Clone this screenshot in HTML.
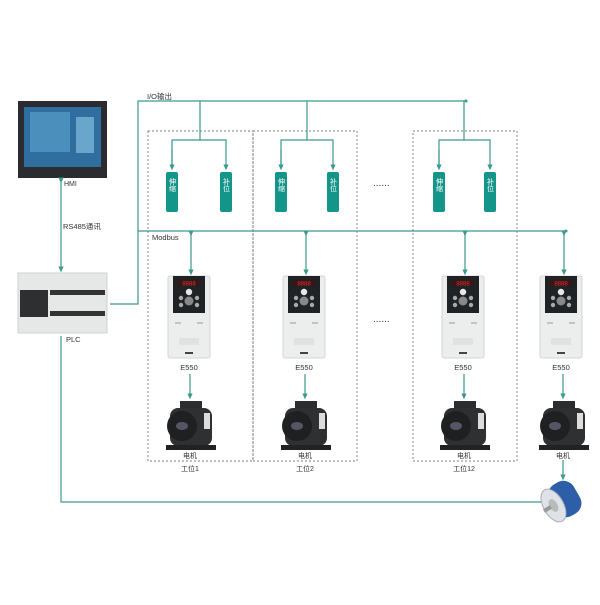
<!DOCTYPE html>
<html><head><meta charset="utf-8"><style>
body{margin:0;background:#fff}
svg text{font-family:"Liberation Sans","Noto Sans CJK SC",sans-serif;fill:#333}
</style></head><body>
<svg width="600" height="600" viewBox="0 0 600 600" xmlns="http://www.w3.org/2000/svg">
<defs>
<marker id="a" markerWidth="6" markerHeight="6" refX="3" refY="3" orient="auto"><path d="M0,0.8 L5,3 L0,5.2z" fill="#3a9a8e"/></marker>
<g id="drv">
 <rect x="-21" y="0" width="42" height="82" rx="2" fill="#eceeee" stroke="#d4d6d6"/>
 <rect x="-16" y="0" width="32" height="37" fill="#1f2326"/>
 <rect x="-11" y="4" width="22" height="6" fill="#3a1515"/>
 <text x="0" y="9.5" font-size="6" text-anchor="middle" style="fill:#d33">8888</text>
 <circle cx="0" cy="16" r="3.2" fill="#e8e8e8"/>
 <circle cx="-8" cy="22" r="2.2" fill="#aaa"/><circle cx="8" cy="22" r="2.2" fill="#aaa"/>
 <circle cx="0" cy="25" r="4.5" fill="#888"/>
 <circle cx="-8" cy="29" r="2.2" fill="#aaa"/><circle cx="8" cy="29" r="2.2" fill="#aaa"/>
 <line x1="-14" y1="47" x2="-8" y2="47" stroke="#999"/><line x1="8" y1="47" x2="14" y2="47" stroke="#999"/>
 <rect x="-10" y="62" width="20" height="7" fill="#e0e2e2"/>
 <rect x="-4" y="76" width="8" height="2" fill="#444"/>
</g>
<g id="mot">
 <rect x="-10" y="0" width="22" height="8" fill="#2b2d2f"/>
 <rect x="-20" y="7" width="42" height="38" rx="8" fill="#2e3032"/>
 <circle cx="-8" cy="25" r="15" fill="#1e2022"/>
 <ellipse cx="-8" cy="25" rx="6" ry="4" fill="#556"/>
 <rect x="14" y="12" width="6" height="16" fill="#ddd"/>
 <rect x="-24" y="44" width="50" height="5" fill="#222"/>
</g>
<g id="gb"><rect x="-6" y="0" width="12" height="40" rx="2" fill="#14958a"/></g>
</defs>

<!-- HMI -->
<rect x="18" y="101" width="89" height="77" fill="#2a2c2f"/>
<rect x="24" y="107" width="77" height="60" fill="#2f6e9e"/>
<rect x="30" y="112" width="40" height="40" fill="#4b8fbd"/>
<rect x="76" y="117" width="18" height="36" fill="#6aa6cc"/>
<text x="64" y="186" font-size="7">HMI</text>
<line x1="61" y1="181" x2="61" y2="270" stroke="#3a9a8e" stroke-width="1.2" marker-start="url(#a)" marker-end="url(#a)"/>
<text x="63" y="229" font-size="7.5">RS485通讯</text>

<!-- PLC -->
<rect x="18" y="273" width="89" height="60" fill="#e6e7e7" stroke="#cfd0d0"/>
<rect x="20" y="290" width="28" height="27" fill="#2d2f31"/>
<rect x="50" y="290" width="55" height="5" fill="#333"/>
<rect x="50" y="311" width="55" height="5" fill="#333"/>
<text x="66" y="342" font-size="7.5">PLC</text>
<polyline points="61,336 61,502 541,502" fill="none" stroke="#3a9a8e" stroke-width="1.2"/>

<!-- I/O bus -->
<polyline points="110,304 138,304 138,101 466,101" fill="none" stroke="#3a9a8e" stroke-width="1.2"/>
<text x="147" y="99" font-size="7.5">I/O输出</text>

<!-- dashed boxes -->
<g fill="none" stroke="#999" stroke-width="1.2" stroke-dasharray="2,2">
<rect x="148" y="131" width="105" height="330"/>
<rect x="253" y="131" width="104" height="330"/>
<rect x="413" y="131" width="104" height="330"/>
</g>

<!-- branches -->
<g fill="none" stroke="#3a9a8e" stroke-width="1.2">
<polyline points="200,101 200,140"/><polyline points="172,168 172,140 226,140 226,168" marker-end="url(#a)"/><line x1="172" y1="150" x2="172" y2="168" marker-end="url(#a)"/>
<polyline points="307,101 307,140"/><polyline points="281,168 281,140 333,140 333,168" marker-end="url(#a)"/><line x1="281" y1="150" x2="281" y2="168" marker-end="url(#a)"/>
<polyline points="464,101 464,140"/><polyline points="439,168 439,140 490,140 490,168" marker-end="url(#a)"/><line x1="439" y1="150" x2="439" y2="168" marker-end="url(#a)"/>
</g>
<circle cx="466" cy="101" r="1.5" fill="#3a9a8e"/>
<g fill="#fff" font-size="7" text-anchor="middle">
<use href="#gb" x="172" y="172"/><use href="#gb" x="226" y="172"/>
<use href="#gb" x="281" y="172"/><use href="#gb" x="333" y="172"/>
<use href="#gb" x="439" y="172"/><use href="#gb" x="490" y="172"/>
</g>
<g font-size="7" text-anchor="middle" style="writing-mode:tb">
<text x="172" y="185" style="fill:#fff">伸缩</text><text x="226" y="185" style="fill:#fff">补位</text>
<text x="281" y="185" style="fill:#fff">伸缩</text><text x="333" y="185" style="fill:#fff">补位</text>
<text x="439" y="185" style="fill:#fff">伸缩</text><text x="490" y="185" style="fill:#fff">补位</text>
</g>
<text x="373" y="186" font-size="10">......</text>
<text x="373" y="322" font-size="10">......</text>

<!-- Modbus -->
<line x1="138" y1="231" x2="566" y2="231" stroke="#3a9a8e" stroke-width="1.2"/>
<circle cx="566" cy="231" r="1.5" fill="#3a9a8e"/>
<text x="152" y="240" font-size="7.5">Modbus</text>
<g stroke="#3a9a8e" stroke-width="1.2" marker-start="url(#a)" marker-end="url(#a)">
<line x1="191" y1="234" x2="191" y2="273"/>
<line x1="306" y1="234" x2="306" y2="273"/>
<line x1="465" y1="234" x2="465" y2="273"/>
<line x1="564" y1="234" x2="564" y2="273"/>
</g>
<use href="#drv" x="189" y="276"/>
<use href="#drv" x="304" y="276"/>
<use href="#drv" x="463" y="276"/>
<use href="#drv" x="561" y="276"/>
<g font-size="7.5" text-anchor="middle">
<text x="189" y="370">E550</text><text x="304" y="370">E550</text><text x="463" y="370">E550</text><text x="561" y="370">E550</text>
</g>
<g stroke="#3a9a8e" stroke-width="1.2" marker-end="url(#a)">
<line x1="190" y1="374" x2="190" y2="397"/>
<line x1="305" y1="374" x2="305" y2="397"/>
<line x1="464" y1="374" x2="464" y2="397"/>
<line x1="563" y1="374" x2="563" y2="397"/>
<line x1="563" y1="460" x2="563" y2="478"/>
</g>
<use href="#mot" x="190" y="401"/>
<use href="#mot" x="305" y="401"/>
<use href="#mot" x="464" y="401"/>
<use href="#mot" x="563" y="401"/>
<g font-size="7" text-anchor="middle">
<text x="190" y="458">电机</text><text x="305" y="458">电机</text><text x="464" y="458">电机</text><text x="563" y="458">电机</text>
<text x="190" y="471">工位1</text><text x="305" y="471">工位2</text><text x="464" y="471">工位12</text>
</g>

<!-- encoder -->
<g transform="rotate(-30 563 500)">
<rect x="551" y="482" width="28" height="36" rx="12" fill="#2c5fa8"/>
<ellipse cx="552" cy="500" rx="10" ry="18" fill="#dfe3e8" stroke="#aab"/>
<ellipse cx="552" cy="500" rx="4" ry="7" fill="#bbb"/>
<rect x="541" y="498" width="8" height="4" fill="#999"/>
</g>
</svg>
</body></html>
